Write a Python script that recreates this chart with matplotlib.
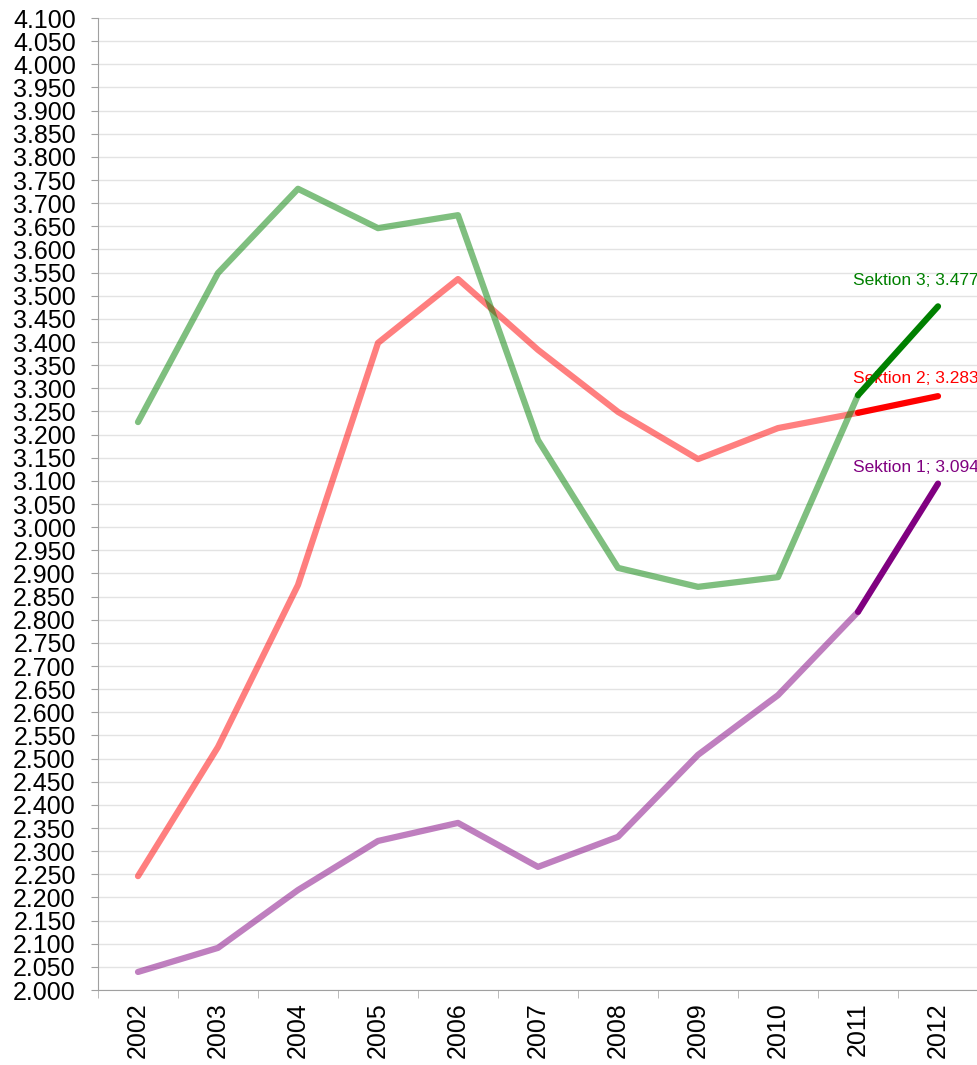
import matplotlib.pyplot as plt
import numpy as np
from matplotlib import font_manager

years = ['2002', '2003', '2004', '2005', '2006', '2007', '2008', '2009', '2010', '2011', '2012']
sektion1 = [2.039, 2.091, 2.216, 2.322, 2.361, 2.266, 2.331, 2.508, 2.637, 2.817, 3.094]
sektion2 = [2.246, 2.525, 2.875, 3.398, 3.536, 3.383, 3.249, 3.147, 3.214, 3.247, 3.283]
sektion3 = [3.227, 3.549, 3.731, 3.646, 3.674, 3.188, 2.912, 2.871, 2.892, 3.285, 3.477]
names = ['Sektion 1', 'Sektion 2', 'Sektion 3']
colors = ['#800080', '#ff0000', '#008000']

plt.rcParams['font.family'] = ['Liberation Sans', 'DejaVu Sans']

# narrow font for the end labels if available
avail = {f.name for f in font_manager.fontManager.ttflist}
label_font = 'Liberation Sans Narrow' if 'Liberation Sans Narrow' in avail else 'Liberation Sans'

fig = plt.figure(figsize=(9.78, 10.65), dpi=100)
ax = fig.add_axes([98 / 978, 1 - 990 / 1065, 880 / 978, 972 / 1065])

x = np.arange(len(years))
series = [sektion1, sektion2, sektion3]
label_offsets = [(-16, 6.5), (-16, 7), (-16, 13.5)]

for vals, name, col, off in zip(series, names, colors, label_offsets):
    # pale (patterned) part up to 2011, solid part for the last step
    ax.plot(x[:-1], vals[:-1], color=col, alpha=0.5, lw=4.5,
            solid_capstyle='round', solid_joinstyle='round', zorder=3)
    ax.plot(x[-2:], vals[-2:], color=col, lw=4.5,
            solid_capstyle='round', zorder=4)
    ax.annotate(f'{name}; {vals[-1]:.3f}', (x[-1], vals[-1]),
                xytext=off, textcoords='offset points',
                ha='center', va='bottom', color=col,
                fontsize=13 if label_font.endswith('Narrow') else 12.5,
                family=label_font, annotation_clip=False)

ax.set_xlim(-0.5, len(years) - 0.5)
ax.set_ylim(2.0, 4.1)
yt = np.arange(2.0, 4.1001, 0.05)
ax.set_yticks(yt)
ax.set_yticklabels([f'{v:.3f}' for v in yt], fontsize=18)
ax.yaxis.grid(True, color='#e3e3e3', lw=1)
ax.set_axisbelow(True)

ax.set_xticks(x)
ax.set_xticklabels(years, rotation=90, fontsize=18)
ax.set_xticks(np.arange(-0.5, len(years)), minor=True)
ax.tick_params(axis='x', which='major', length=0, pad=9)
ax.tick_params(axis='x', which='minor', length=6, color='#b0b0b0')
ax.tick_params(axis='y', length=5, color='#a0a0a0', pad=11)

for s in ['top', 'right']:
    ax.spines[s].set_visible(False)
ax.spines['left'].set_color('#a0a0a0')
ax.spines['bottom'].set_color('#a0a0a0')

fig.savefig('out.png', dpi=100)
